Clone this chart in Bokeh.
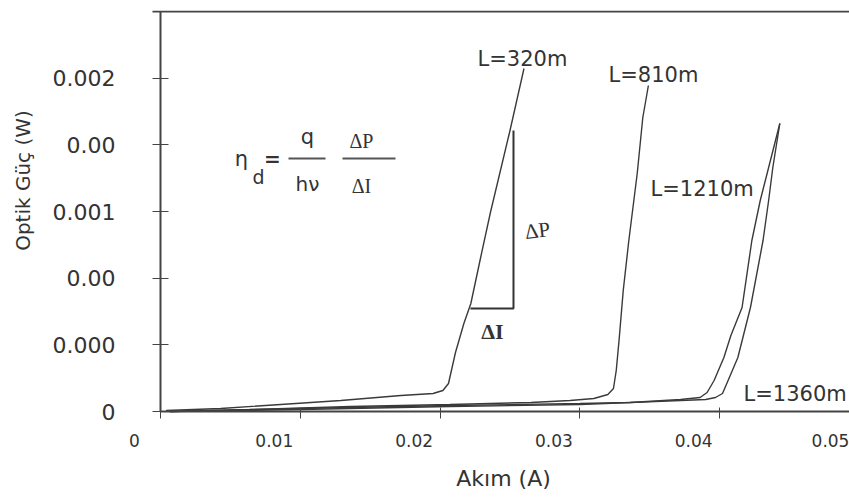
import math
from bokeh.plotting import figure
from bokeh.models import ColumnDataSource, Label, LinearAxis, FixedTicker, Range1d
from bokeh.core.properties import value
from bokeh.embed import file_html
from bokeh.resources import INLINE

# ---------------- data ----------------
i_320 = [0.0004, 0.0043, 0.0086, 0.0129, 0.0172, 0.0195, 0.0202, 0.0206, 0.0211,
         0.0217, 0.0222, 0.0229, 0.0236, 0.0250, 0.0260]
p_320 = [0.000006, 0.000018, 0.000042, 0.000066, 0.000096, 0.000108, 0.000126, 0.000168,
         0.000354, 0.000528, 0.000648, 0.000924, 0.001194, 0.001686, 0.002058]

i_810 = [0.0007, 0.0064, 0.0136, 0.0207, 0.0265, 0.0293, 0.0310, 0.0320, 0.0324,
         0.0326, 0.0328, 0.0331, 0.0335, 0.0341, 0.0345, 0.0349]
p_810 = [0.0, 0.000012, 0.000030, 0.000042, 0.000054, 0.000066, 0.000078, 0.000102,
         0.000138, 0.000246, 0.000426, 0.000726, 0.001026, 0.001428, 0.001764, 0.001956]

i_1210 = [0.0007, 0.0100, 0.0207, 0.0300, 0.0336, 0.0372, 0.0386, 0.0391, 0.0396,
          0.0403, 0.0408, 0.0416, 0.0423, 0.0429, 0.0435, 0.0443]
p_1210 = [0.0, 0.000018, 0.000036, 0.000048, 0.000054, 0.000072, 0.000084, 0.000114,
          0.000186, 0.000324, 0.000456, 0.000624, 0.001026, 0.001266, 0.001464, 0.001728]

i_1360 = [0.0007, 0.0100, 0.0207, 0.0300, 0.0372, 0.0390, 0.0397, 0.0402, 0.0406,
          0.0413, 0.0422, 0.0431, 0.0435, 0.0438, 0.0443]
p_1360 = [0.0, 0.000012, 0.000030, 0.000042, 0.000066, 0.000072, 0.000084, 0.000108,
          0.000186, 0.000324, 0.000624, 0.001026, 0.001266, 0.001464, 0.001728]

curve_names = ["L=320m", "L=810m", "L=1210m", "L=1360m"]

y_ticks = [0, 0.0004, 0.0008, 0.0012, 0.0016, 0.002]
y_tick_labels = ["0", "0.000", "0.00", "0.001", "0.00", "0.002"]
x_ticks = [0, 0.01, 0.02, 0.03, 0.04, 0.05]
x_tick_labels = ["0", "0.01", "0.02", "0.03", "0.04", "0.05"]

# slope triangle (delta I, delta P)
tri_i = [0.02217, 0.02525, 0.02525]
tri_p = [0.000618, 0.000618, 0.001686]

# ---------------- layout helpers ----------------
W, H = 849, 498
FL, FT = 14, 10                       # frame left / top in px
Y_TOP = 0.0024                        # value at the top border line
PX_X0, PX_PER_X = 160.0, 13980.0      # px of x=0, px per unit of x
PX_Y0, PX_PER_Y = 411.0, 400.0 / Y_TOP


def dx(px):
    return (px - PX_X0) / PX_PER_X


def dy(py):
    return (PX_Y0 - py) / PX_PER_Y


SANS = "DejaVu Sans"
SERIF = "Liberation Serif"
INK = "#333333"
AX = "#444444"

p = figure(width=W, height=H,
           x_range=Range1d(dx(FL), dx(W)), y_range=Range1d(dy(H), dy(FT)),
           x_axis_location="above", y_axis_location="left",
           output_backend="svg", toolbar_location=None,
           min_border_left=FL, min_border_right=0, min_border_top=FT, min_border_bottom=0)
p.outline_line_color = None
p.grid.visible = False
p.background_fill_color = "white"
p.border_fill_color = "white"

# x axis drawn at y = 0 (tick marks only; labels are placed below as text)
xa = p.xaxis[0]
xa.fixed_location = 0
xa.bounds = (0, dx(W))
xa.ticker = FixedTicker(ticks=x_ticks)
xa.major_label_overrides = {t: "" for t in x_ticks}
xa.axis_line_width = 2
xa.axis_line_color = AX
xa.major_tick_out = 4
xa.major_tick_in = 7
xa.major_tick_line_color = AX
xa.minor_tick_line_color = None
xa.major_label_text_font_size = "1px"
xa.major_label_standoff = 0

# y axis drawn at x = 0
ya = p.yaxis[0]
ya.fixed_location = 0
ya.bounds = (0, Y_TOP)
ya.ticker = FixedTicker(ticks=y_ticks)
ya.major_label_overrides = {t: "" for t in y_ticks}
ya.axis_line_width = 2
ya.axis_line_color = AX
ya.major_tick_in = 8
ya.major_tick_out = 8
ya.major_tick_line_color = AX
ya.minor_tick_line_color = None
ya.major_label_text_font_size = "1px"
ya.major_label_standoff = 0

# top border line
top = LinearAxis(fixed_location=Y_TOP, bounds=(dx(152), dx(W)), ticker=FixedTicker(ticks=[]),
                 axis_line_width=2, axis_line_color=AX,
                 major_tick_line_color=None, minor_tick_line_color=None,
                 major_tick_out=0, major_tick_in=0, major_label_standoff=0,
                 major_label_text_font_size="1px")
p.add_layout(top, "above")

# curves
for xs, ys in [(i_320, p_320), (i_810, p_810), (i_1210, p_1210), (i_1360, p_1360)]:
    p.line(xs, ys, line_color="#3a3a3a", line_width=1.4)

# triangle
p.line(tri_i, tri_p, line_color="#333333", line_width=2)

# tick labels
p.text(x=[0] * len(y_ticks), y=y_ticks, text=y_tick_labels, x_offset=-45,
       text_align="right", text_baseline="middle",
       text_font=value(SANS), text_font_size="22px", text_color=INK)
x_label_shift = [-26, -26, -26, -26, -26, -29]   # px, labels sit left of their ticks
p.text(x=x_ticks, y=[dy(440)] * len(x_ticks), text=x_tick_labels, x_offset=x_label_shift,
       text_align="center", text_baseline="middle",
       text_font=value(SANS), text_font_size="17px", text_color=INK)

# axis titles
p.text(x=[dx(503)], y=[dy(478)], text=["Akım (A)"], text_align="center",
       text_baseline="middle", text_font=value(SANS), text_font_size="22px",
       text_color=INK)
p.text(x=[dx(22)], y=[dy(180)], text=["Optik Güç (W)"], angle=math.pi / 2,
       text_align="center", text_baseline="middle", text_font=value(SANS),
       text_font_size="20px", text_color=INK)

# curve labels
cl_src = ColumnDataSource(dict(x=[dx(477), dx(608), dx(650), dx(743)],
                               y=[dy(58), dy(74), dy(188), dy(393)],
                               t=curve_names))
p.text(x="x", y="y", text="t", source=cl_src, text_align="left", text_baseline="middle",
       text_font=value(SANS), text_font_size="21px", text_color=INK)


# formula
def txt(px, py, s, size, font=SANS, style="normal", align="center", angle=0.0):
    p.add_layout(Label(x=dx(px), y=dy(py), text=s, text_align=align, text_baseline="middle",
                       text_font=font, text_font_size=size, text_font_style=style,
                       text_color=INK, angle=angle))


txt(241, 158, "η", "21px")
txt(258, 176, "d", "19px")
txt(272, 158, "=", "20px", style="bold")
txt(307, 136, "q", "21px")
txt(307, 183, "hν", "20px")
txt(361, 140, "ΔP", "20px", font=SERIF)
txt(361, 185, "ΔI", "20px", font=SERIF)
p.segment(x0=[dx(288), dx(342)], y0=[dy(158), dy(158)], x1=[dx(325), dx(395)],
          y1=[dy(158), dy(158)], line_color="#555555", line_width=2)

# triangle labels
txt(537, 230, "ΔP", "21px", font=SERIF, angle=0.12)
txt(492, 331, "ΔI", "22px", font=SERIF, style="bold")

open("out.html", "w").write(file_html(p, INLINE))
